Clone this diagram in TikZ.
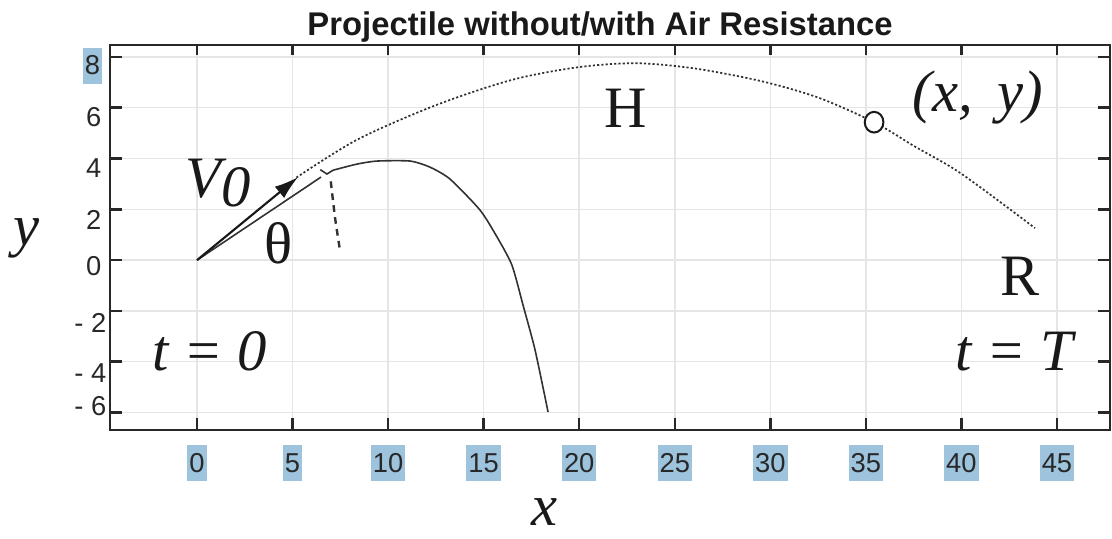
\documentclass[tikz,border=0pt]{standalone}
\usepackage{fontspec}
\setmainfont{Liberation Serif}
\setsansfont{Liberation Sans}
\usepackage{xcolor}
\usepackage{tikz}
\usetikzlibrary{arrows.meta,shapes.geometric}
\definecolor{gridgray}{RGB}{229,229,229}
\definecolor{axisgray}{RGB}{40,40,40}
\definecolor{curvegray}{RGB}{50,50,50}
\definecolor{labelblack}{RGB}{25,25,25}
\definecolor{selblue}{RGB}{157,195,221}

\begin{document}
\begin{tikzpicture}[x=14.33pt, y=19.05pt]
    \tikzstyle{gridline} = [line width=1.1pt, draw=gridgray]
    \tikzstyle{axisline} = [line width=1.9pt, draw=axisgray]
    \tikzstyle{ticklabel} = [font=\sffamily\fontsize{20.5}{24}\selectfont, text=axisgray, inner sep=0pt]
    \tikzstyle{selected} = [ticklabel, fill=selblue, minimum height=27pt, inner xsep=1.5pt]
    \tikzstyle{mathlabel} = [font=\fontsize{44}{50}\selectfont\itshape, inner sep=0pt, anchor=base, text=labelblack]
    \tikzstyle{romanlabel} = [mathlabel, font=\fontsize{44}{50}\selectfont\upshape]
    \tikzstyle{withair} = [line width=1.2pt, draw=curvegray]
    \tikzstyle{noair} = [line width=1.3pt, draw=curvegray, dash pattern=on 1.6pt off 1.6pt]
    \tikzstyle{cutoff} = [line width=1.8pt, draw=curvegray, dash pattern=on 5pt off 4pt]
    \tikzstyle{posmark} = [ellipse, draw=labelblack, fill=white, line width=1.5pt, minimum width=14pt, minimum height=15.5pt, inner sep=0pt]

    \useasboundingbox (-10.31,-10.94) rectangle (47.88,10.24);

    % Grid
    \foreach \gx in {0,5,...,45}
        \draw[gridline] (\gx,-6.69) -- (\gx,8.46);
    \foreach \gy in {-6,-4,...,8}
        \draw[gridline] (-4.55,\gy) -- (47.78,\gy);

    % Axes box and ticks
    \draw[axisline] (-4.55,-6.69) rectangle (47.78,8.46);
    \foreach \gx in {0,5,...,45} {
        \draw[axisline] (\gx,8.46) -- ++(0,-7.5pt);
        \draw[axisline] (\gx,-6.69) -- ++(0,9pt);
    }
    \foreach \gy in {-6,-4,...,8} {
        \draw[axisline] (-4.55,\gy) -- ++(9pt,0);
        \draw[axisline] (47.78,\gy) -- ++(-9pt,0);
    }

    % Tick labels
    \foreach \gx in {0,5,...,45}
        \node[selected] (xt\gx) at (\gx,-7.99) {\gx};
    \node[selected, anchor=east] (yt8) at (-4.96,7.66) {8};
    \foreach \gy/\py in {6/5.64,4/3.62,2/1.57,0/-0.24}
        \node[ticklabel, anchor=east] (yt\gy) at (-4.99,\py) {\gy};
    \foreach \gy/\py in {2/-2.46,4/-4.43,6/-5.75}
        \node[ticklabel, anchor=east] (ytm\gy) at (-4.73,\py) {- \gy};

    % Title
    \node[font=\sffamily\bfseries\fontsize{24.6}{28}\selectfont, anchor=base, inner sep=0pt, text=labelblack] (title) at (21.09,8.86) {Projectile without/with Air Resistance};

    % Trajectories
    \coordinate (launch) at (0,0);
    \coordinate (v0tip) at (5.29,3.27);
    \coordinate (kink) at (6.49,3.27);
    \draw[withair] (launch) -- (kink);
    \draw[withair] (6.45,3.56) -- (6.8,3.39) -- (7.12,3.54);
    \draw[withair] plot[smooth, tension=0.4] coordinates {(7.12,3.54) (8.37,3.78) (9.42,3.9) (11.15,3.9) (12.19,3.66) (13.24,3.19) (14.81,1.97) (15.7,0.91) (16.48,-0.2) (17.06,-1.77) (17.69,-3.54) (18.37,-5.98)};
    \draw[noair] plot[smooth] coordinates {(5.2,3.25) (8.4,4.75) (12.5,6.1) (16.5,7.1) (20,7.6) (23,7.75) (26,7.55) (29.5,7.05) (32.5,6.4) (35.43,5.43) (37.5,4.5) (40,3.4) (43.85,1.26)};
    \draw[cutoff] plot[smooth] coordinates {(7.0,3.1) (7.22,1.69) (7.48,0.39)};
    \draw[line width=1.6pt, draw=labelblack, -{Latex[length=18pt,width=11pt]}] (launch) -- (v0tip);
    \node[posmark] (xy) at (35.43,5.43) {};

    % Labels
    \node[mathlabel] (ylab) at (-8.9,0.59) {y};
    \node[mathlabel] (xlab) at (18.2,-10.45) {x};
    \node[mathlabel, anchor=base west] (v0lab) at (-0.63,2.48) {V\raisebox{-7pt}{0}};
    \node[romanlabel] (thetalab) at (4.26,-0.12) {θ};
    \node[romanlabel] (hlab) at (22.42,5.24) {H};
    \node[mathlabel] (xylab) at (40.87,5.85) {(x,\, y)};
    \node[romanlabel] (rlab) at (43.07,-1.38) {R};
    \node[mathlabel] (t0lab) at (0.68,-4.33) {t = 0};
    \node[mathlabel] (tTlab) at (42.75,-4.33) {t = T};
\end{tikzpicture}
\end{document}
